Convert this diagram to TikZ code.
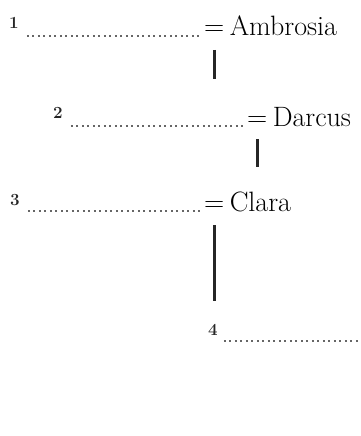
\documentclass[tikz,border=0pt]{standalone}
\usepackage{tikz}
\usetikzlibrary{positioning}

\begin{document}
\begin{tikzpicture}[x=1pt,y=-1pt,
        idx/.style={font=\fontsize{17}{20}\selectfont\bfseries, inner sep=0pt, text=black!85},
        eqs/.style={font=\fontsize{28}{32}\selectfont, inner sep=0pt, anchor=base west},
        who/.style={font=\fontsize{28}{32}\selectfont, inner sep=0pt},
        leader/.style={draw=black!60, line width=1.8pt, dash pattern=on 1.8pt off 3.7pt},
        link/.style={draw=black!85, line width=2.6pt}]
        \useasboundingbox (0,0) rectangle (360,436);

        % first line
        \node[idx] (n1) at (14,23) {1};
        \node[eqs] (eq1) at (204,36) {=};
        \node[who, base right=5pt of eq1] (amb) {Ambrosia};
        \draw[leader] ([xshift=8pt]n1.east |- eq1.base) -- ([xshift=-3pt]eq1.base west);

        % second line
        \node[idx] (n2) at (58,113) {2};
        \node[eqs] (eq2) at (247,126) {=};
        \node[who, base right=5pt of eq2] (dar) {Darcus};
        \draw[leader] ([xshift=8pt]n2.east |- eq2.base) -- ([xshift=-3pt]eq2.base west);

        % third line
        \node[idx] (n3) at (15,200) {3};
        \node[eqs] (eq3) at (204,211) {=};
        \node[who, base right=5pt of eq3] (cla) {Clara};
        \draw[leader] ([xshift=8pt]n3.east |- eq3.base) -- ([xshift=-3pt]eq3.base west);

        % fourth line, runs off the page
        \node[idx] (n4) at (213,330) {4};
        \coordinate (e4) at (362,341);
        \draw[leader] ([xshift=6pt]n4.east |- e4) -- (e4);

        \draw[link] ([yshift=-14pt]eq1.base) -- ++(0,29);
        \draw[link] ([yshift=-13pt]eq2.base) -- ++(0,28);
        \draw[link] ([yshift=-14pt]eq3.base) -- ++(0,76);
    \end{tikzpicture}
\end{document}
